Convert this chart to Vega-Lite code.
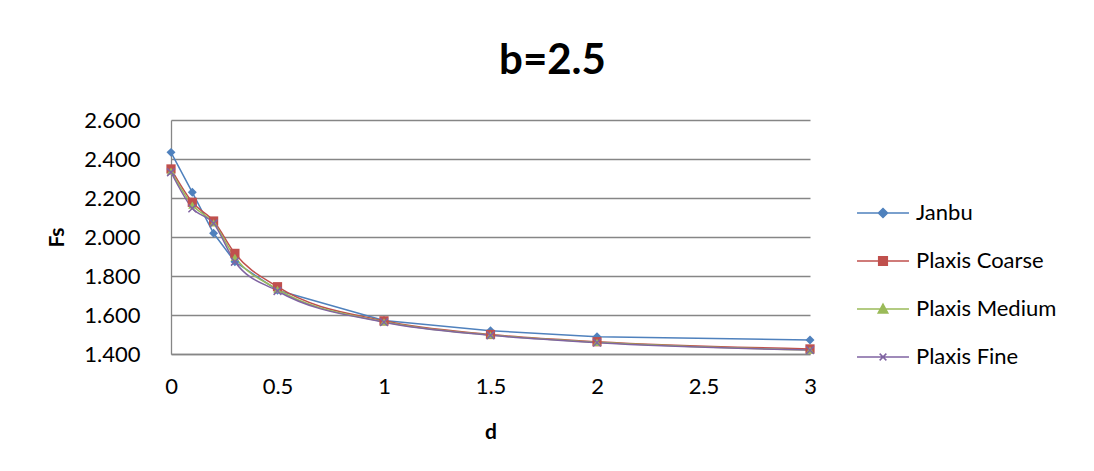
{
  "$schema": "https://vega.github.io/schema/vega-lite/v6.json",
  "width": 639,
  "height": 234,
  "autosize": {"type": "none"},
  "padding": {"left": 171, "top": 120, "right": 284, "bottom": 117},
  "background": "white",
  "title": {"text": "b=2.5", "font": "Lato", "fontSize": 42, "fontWeight": "bold", "color": "#000000", "anchor": "middle", "frame": "group", "dx": 62, "offset": -7, "baseline": "alphabetic"},
  "config": {
    "view": {"stroke": null},
    "font": "Lato",
    "axis": {"labelFont": "Lato", "titleFont": "Lato", "labelColor": "#000000", "titleColor": "#000000"}
  },
  "data": {"values": [
    {"series": "Janbu", "d": 0, "Fs": 2.434},
    {"series": "Janbu", "d": 0.1, "Fs": 2.229},
    {"series": "Janbu", "d": 0.2, "Fs": 2.019},
    {"series": "Janbu", "d": 0.3, "Fs": 1.873},
    {"series": "Janbu", "d": 0.5, "Fs": 1.727},
    {"series": "Janbu", "d": 1, "Fs": 1.572},
    {"series": "Janbu", "d": 1.5, "Fs": 1.519},
    {"series": "Janbu", "d": 2, "Fs": 1.489},
    {"series": "Janbu", "d": 3, "Fs": 1.472},
    {"series": "Plaxis Coarse", "d": 0, "Fs": 2.349},
    {"series": "Plaxis Coarse", "d": 0.1, "Fs": 2.178},
    {"series": "Plaxis Coarse", "d": 0.2, "Fs": 2.082},
    {"series": "Plaxis Coarse", "d": 0.3, "Fs": 1.916},
    {"series": "Plaxis Coarse", "d": 0.5, "Fs": 1.745},
    {"series": "Plaxis Coarse", "d": 1, "Fs": 1.570},
    {"series": "Plaxis Coarse", "d": 1.5, "Fs": 1.500},
    {"series": "Plaxis Coarse", "d": 2, "Fs": 1.463},
    {"series": "Plaxis Coarse", "d": 3, "Fs": 1.426},
    {"series": "Plaxis Medium", "d": 0, "Fs": 2.338},
    {"series": "Plaxis Medium", "d": 0.1, "Fs": 2.164},
    {"series": "Plaxis Medium", "d": 0.2, "Fs": 2.073},
    {"series": "Plaxis Medium", "d": 0.3, "Fs": 1.896},
    {"series": "Plaxis Medium", "d": 0.5, "Fs": 1.732},
    {"series": "Plaxis Medium", "d": 1, "Fs": 1.565},
    {"series": "Plaxis Medium", "d": 1.5, "Fs": 1.497},
    {"series": "Plaxis Medium", "d": 2, "Fs": 1.460},
    {"series": "Plaxis Medium", "d": 3, "Fs": 1.420},
    {"series": "Plaxis Fine", "d": 0, "Fs": 2.332},
    {"series": "Plaxis Fine", "d": 0.1, "Fs": 2.147},
    {"series": "Plaxis Fine", "d": 0.2, "Fs": 2.070},
    {"series": "Plaxis Fine", "d": 0.3, "Fs": 1.873},
    {"series": "Plaxis Fine", "d": 0.5, "Fs": 1.723},
    {"series": "Plaxis Fine", "d": 1, "Fs": 1.563},
    {"series": "Plaxis Fine", "d": 1.5, "Fs": 1.496},
    {"series": "Plaxis Fine", "d": 2, "Fs": 1.458},
    {"series": "Plaxis Fine", "d": 3, "Fs": 1.420}
  ]},
  "encoding": {
    "x": {"field": "d", "type": "quantitative",
      "scale": {"domain": [0, 3], "nice": false, "zero": false},
      "axis": {"title": "d", "values": [0, 0.5, 1, 1.5, 2, 2.5, 3], "format": "~g", "grid": false, "ticks": false, "labelFlush": false,
        "domainColor": "#868686", "domainWidth": 1.3, "labelFontSize": 22, "labelPadding": 22,
        "titleFontSize": 21, "titleFontWeight": "bold", "titleY": 84, "titleBaseline": "alphabetic"}},
    "y": {"field": "Fs", "type": "quantitative",
      "scale": {"domain": [1.4, 2.6], "nice": false, "zero": false},
      "axis": {"title": "Fs", "values": [1.4, 1.6, 1.8, 2.0, 2.2, 2.4, 2.6], "format": ".3f", "grid": true, "gridColor": "#868686", "gridWidth": 1.3,
        "ticks": false, "labelFlush": false, "domainColor": "#868686", "domainWidth": 1.3, "labelFontSize": 22, "labelPadding": 31,
        "titleFontSize": 21, "titleFontWeight": "bold", "titleX": -114, "titleY": 117, "titleBaseline": "middle", "titleAngle": -90}},
    "color": {"field": "series", "type": "nominal",
      "scale": {"domain": ["Janbu", "Plaxis Coarse", "Plaxis Medium", "Plaxis Fine"], "range": ["#4F81BD", "#C0504D", "#9BBB59", "#8064A2"]},
      "legend": null}
  },
  "layer": [
    {
      "transform": [{"filter": "datum.series === 'Janbu'"}],
      "mark": {"type": "line", "strokeWidth": 1.5, "interpolate": "linear"},
      "encoding": {
        "color": {"field": "series", "type": "nominal",
          "scale": {"domain": ["Janbu", "Plaxis Coarse", "Plaxis Medium", "Plaxis Fine"], "range": ["#4F81BD", "#C0504D", "#9BBB59", "#8064A2"]},
          "legend": {"title": null, "orient": "none", "legendX": 687, "legendY": 68, "padding": 0,
            "symbolSize": 2304, "symbolStrokeWidth": 1.5, "labelFontSize": 22, "labelFont": "Lato", "labelColor": "#000000",
            "labelOffset": 8, "rowPadding": 12,
            "encode": {"symbols": {"update": {
              "shape": {"signal": "datum.value === 'Janbu' ? 'M-1.083,0H1.083M0,-0.19L0.19,0L0,0.19L-0.19,0Z' : datum.value === 'Plaxis Coarse' ? 'M-1.083,0H1.083M-0.18,-0.18H0.18V0.18H-0.18Z' : datum.value === 'Plaxis Medium' ? 'M-1.083,0H1.083M0,-0.2L0.2,0.17H-0.2Z' : 'M-1.083,0H1.083M-0.14,-0.14L0.14,0.14M-0.14,0.14L0.14,-0.14'"},
              "fill": {"scale": "color", "field": "value"},
              "stroke": {"scale": "color", "field": "value"},
              "fillOpacity": {"value": 1},
              "strokeWidth": {"value": 1.5}
            }}}}
        },
        "detail": {"field": "series"}
      }
    },
    {
      "transform": [{"filter": "datum.series !== 'Janbu'"}],
      "mark": {"type": "line", "strokeWidth": 1.5, "interpolate": "monotone"},
      "encoding": {"detail": {"field": "series"}}
    },
    {
      "transform": [{"filter": "datum.series === 'Janbu'"}],
      "mark": {"type": "point", "shape": "diamond", "filled": true, "opacity": 1, "size": 80}
    },
    {
      "transform": [{"filter": "datum.series === 'Plaxis Coarse'"}],
      "mark": {"type": "point", "shape": "square", "filled": true, "opacity": 1, "size": 85}
    },
    {
      "transform": [{"filter": "datum.series === 'Plaxis Medium'"}],
      "mark": {"type": "point", "shape": "triangle-up", "filled": true, "opacity": 1, "size": 70}
    },
    {
      "transform": [{"filter": "datum.series === 'Plaxis Fine'"}],
      "mark": {"type": "point", "shape": "M-1,-1L1,1M-1,1L1,-1", "filled": false, "opacity": 1, "size": 60, "strokeWidth": 1.5}
    }
  ]
}
